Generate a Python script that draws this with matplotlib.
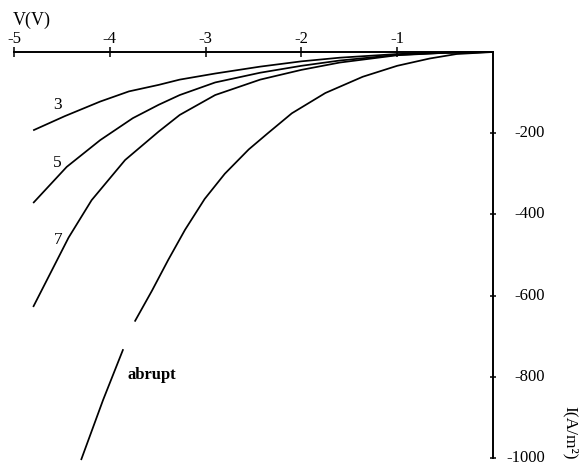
import numpy as np
import matplotlib
matplotlib.use("Agg")
import matplotlib.pyplot as plt
import matplotlib.transforms as mtransforms

plt.rcParams['font.family'] = ['Liberation Serif', 'DejaVu Serif']
plt.rcParams['axes.unicode_minus'] = False

# Reverse-bias I-V curves: graded junctions (3, 5, 7) and abrupt junction
v3 = [-4.80, -4.47, -4.10, -3.80, -3.49, -3.27, -2.90, -2.43, -2.00, -1.60, -1.00, -0.50, 0.0]
i3 = [-193, -158, -122, -97, -81, -68, -53, -36, -23, -14, -5, -1.5, 0]

v5 = [-4.80, -4.45, -4.10, -3.76, -3.49, -3.27, -2.90, -2.43, -2.00, -1.60, -1.00, -0.50, 0.0]
i5 = [-372, -283, -217, -163, -130, -106, -75, -51, -34, -21, -7, -2, 0]

v7 = [-4.80, -4.43, -4.19, -3.84, -3.49, -3.27, -2.90, -2.43, -2.00, -1.60, -1.00, -0.50, 0.0]
i7 = [-628, -457, -365, -266, -196, -155, -106, -68, -44, -26, -8, -2, 0]

# the abrupt trace has a short break between -3.86 V and -3.74 V
v_abrupt = [-4.30, -4.07, -3.86, np.nan, -3.74, -3.56, -3.39, -3.215, -3.01, -2.80, -2.55,
            -2.35, -2.10, -1.75, -1.36, -1.00, -0.66, -0.38, 0.0]
i_abrupt = [-1005, -857, -732, np.nan, -664, -588, -512, -438, -362, -300, -240,
            -200, -151, -101, -61, -34, -16, -5, 0]

x_ticks = [-5, -4, -3, -2, -1]
x_tick_labels = ['-5', '-4', '-3', '-2', '-1']
y_ticks = [-200, -400, -600, -800, -1000]
y_tick_labels = ['-200', '-400', '-600', '-800', '-1000']

fig = plt.figure(figsize=(5.81, 4.66), dpi=100)
ax = fig.add_axes([14 / 581, 1 - 458 / 466, 479 / 581, 406 / 466])
ax.set_xlim(-5, 0)
ax.set_ylim(-1000, 0)

for s in ('left', 'bottom'):
    ax.spines[s].set_visible(False)
for s in ('top', 'right'):
    ax.spines[s].set_linewidth(1.4)
    ax.spines[s].set_color('black')

ax.xaxis.tick_top()
ax.yaxis.tick_right()
ax.set_xticks(x_ticks)
ax.set_xticklabels(x_tick_labels)
ax.set_yticks(y_ticks)
ax.set_yticklabels(y_tick_labels)
ax.tick_params(axis='x', direction='inout', length=6.5, width=1.1, pad=0.5, labelsize=12)
ax.tick_params(axis='y', direction='inout', length=4.5, width=1.1, pad=35, labelsize=12)
lift = mtransforms.ScaledTranslation(0, 2 / 100, fig.dpi_scale_trans)
for lbl in ax.get_yticklabels():
    lbl.set_horizontalalignment('right')
    lbl.set_transform(lbl.get_transform() + lift)

lw = 1.25
for v, i in ((v3, i3), (v5, i5), (v7, i7), (v_abrupt, i_abrupt)):
    ax.plot(v, i, color='black', lw=lw, solid_capstyle='butt',
            solid_joinstyle='round', clip_on=False)

ax.text(-4.55, -131, '3', ha='center', va='center', fontsize=12.5)
ax.text(-4.55, -274, '5', ha='center', va='center', fontsize=12.5)
ax.text(-4.54, -463, '7', ha='center', va='center', fontsize=12.5)
ax.text(-3.82, -796, 'abrupt', ha='left', va='center', fontsize=12, fontweight='bold')

fig.text(13 / 581, 1 - 25 / 466, 'V(V)', ha='left', va='baseline', fontsize=13)
fig.text(570 / 581, 1 - 433 / 466, 'I(A/m²)', ha='center', va='center',
         rotation=-90, fontsize=12.5)

fig.savefig('out.png', dpi=100)
